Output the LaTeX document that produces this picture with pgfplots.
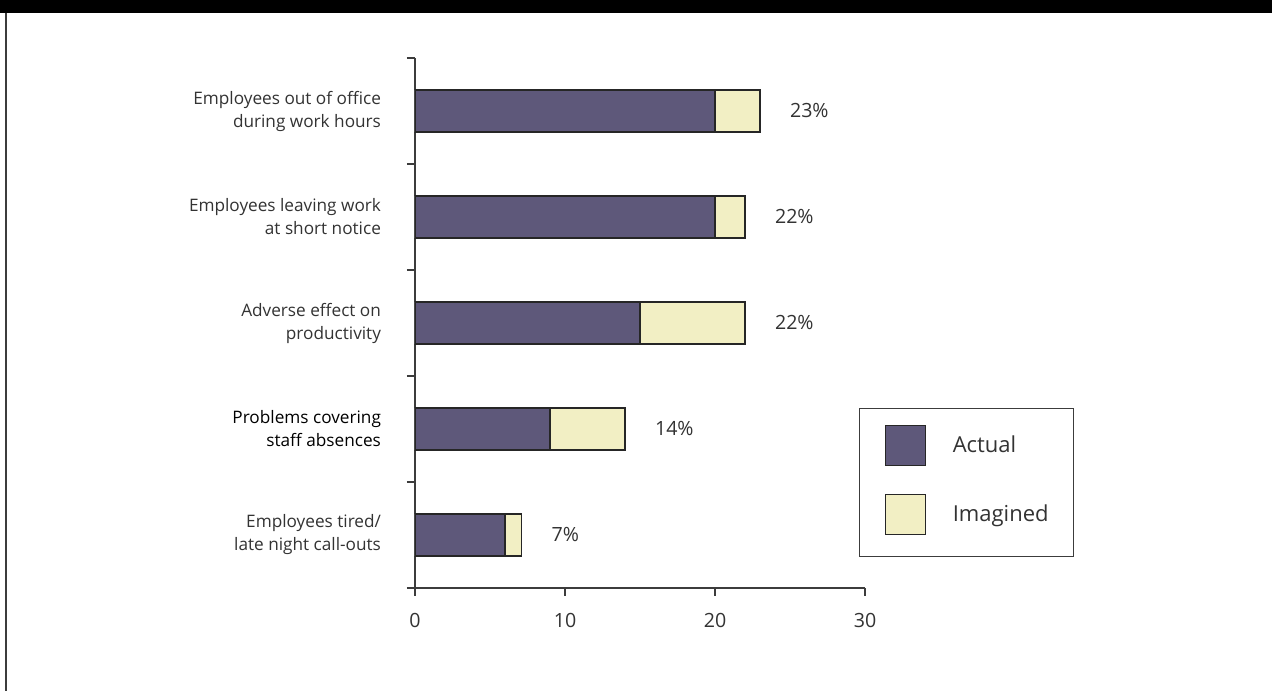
\documentclass[border=0pt]{standalone}
\usepackage{fontspec}
\setmainfont{Open Sans}
\usepackage{pgfplots}
\pgfplotsset{compat=1.18}
\usepackage{pgfplotstable}
\definecolor{actual}{RGB}{94,88,122}
\definecolor{imag}{RGB}{242,239,196}
\definecolor{txt}{RGB}{51,51,51}
\definecolor{axc}{RGB}{60,60,60}
% y: category position (4 = top); actual; total = actual + imagined
\pgfplotstableread{
y actual total
4 20 23
3 20 22
2 15 22
1 9 14
0 6 7.1
}\data
\begin{document}
\begin{tikzpicture}
\path[use as bounding box, fill=white] (-311.25pt,-77.25pt) rectangle (642.75pt,441pt);
\fill[black] (-311.25pt,431.25pt) rectangle (642.75pt,441pt);
\draw[line width=1.5pt, color=axc] (-306.4pt,-77.25pt) -- (-306.4pt,431.25pt);
\begin{axis}[
  at={(0pt,0pt)}, anchor=south west,
  scale only axis, width=337.5pt, height=397.5pt,
  xbar, bar width=31.5pt, bar shift=0pt,
  xmin=0, xmax=30, ymin=-0.5, ymax=4.5,
  axis x line=bottom, axis y line=left,
  axis line style={-, line width=1pt, color=axc},
  xtick={0,10,20,30},
  ytick={-0.5,0.5,1.5,2.5,3.5,4.5},
  y tick label as interval,
  yticklabels={{Employees tired/\\late night call-outs},
               {{\color{black}Problems covering}\\{\color{black}staff absences}},
               {Adverse effect on\\productivity},
               {Employees leaving work\\at short notice},
               {Employees out of office\\during work hours}},
  tick align=outside, major tick length=6pt,
  tick style={line width=1pt, color=axc},
  /pgf/number format/assume math mode=true,
  xticklabel style={font=\fontsize{14.7}{17}\selectfont, text=txt, yshift=-9.75pt},
  yticklabel style={font=\fontsize{12.9}{17.25}\selectfont, align=right, text=txt, xshift=-16pt},
  legend style={at={(0.9867,0.3396)}, anchor=north west, draw=axc, line width=0.8pt,
    fill=white, font=\fontsize{16.5}{20}\selectfont, text=txt,
    inner xsep=18.75pt, inner ysep=12pt, row sep=17.25pt,
    nodes={inner xsep=0pt},
    /tikz/every odd column/.append style={column sep=20.25pt}},
  legend cell align=left,
  reverse legend,
  area legend,
  legend image code/.code={\draw[#1, line width=0.8pt] (0pt,-15pt) rectangle (30pt,15pt); \path (0pt,-18.75pt);},
]
\addplot[fill=imag, draw=black!85, line width=1.1pt,
  point meta=explicit,
  nodes near coords={\pgfmathprintnumber{\pgfplotspointmeta}\%},
  every node near coord/.append style={anchor=west, inner sep=0pt, xshift=22pt,
    font=\fontsize{14.7}{17}\selectfont, text=txt, /pgf/number format/precision=0}
  ] table[x=total, y=y, meta=total] {\data};
\addlegendentry{Imagined}
\addplot[fill=actual, draw=black!85, line width=1.1pt] table[x=actual, y=y] {\data};
\addlegendentry{Actual}
\end{axis}
\end{tikzpicture}
\end{document}
